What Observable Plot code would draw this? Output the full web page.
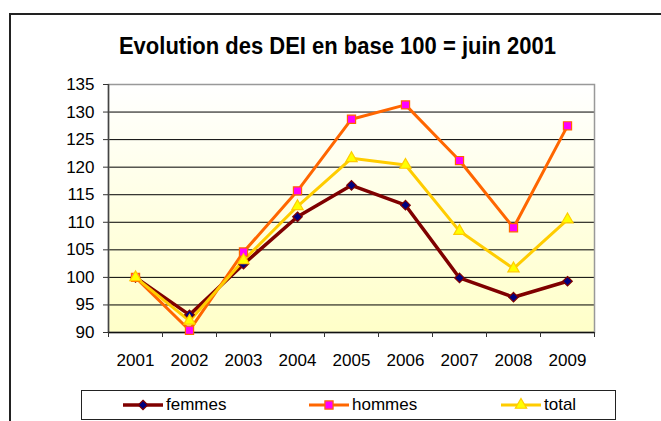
<!DOCTYPE html>
<html>
<head>
<meta charset="utf-8">
<script src="https://cdn.jsdelivr.net/npm/d3@7"></script>
<script src="https://cdn.jsdelivr.net/npm/@observablehq/plot@0.6"></script>
<style>
  html, body { margin: 0; padding: 0; background: #fff; }
  #wrap { position: relative; width: 661px; height: 421px; overflow: hidden; font-family: "Liberation Sans", Arial, sans-serif; }
  #border { position: absolute; left: 9px; top: 13px; width: 700px; height: 500px; border-top: 2px solid #222; border-left: 2px solid #222; }
  #title { position: absolute; left: 337.5px; top: 35px; white-space: nowrap; font-weight: bold; font-size: 22px; line-height: 22px; color: #000; transform: translateX(-50%) scale(1, 1.1); transform-origin: 50% 50%; }
  #chart { position: absolute; left: 0; top: 60px; }
  #legend { position: absolute; left: 81px; top: 390px; width: 533px; height: 28px; border: 1px solid #222; font-size: 17px; color: #000; }
  .item { position: absolute; top: 0; height: 28px; display: flex; align-items: center; }
  .item svg { display: block; }
  .item span { margin-left: 3px; }
</style>
</head>
<body>
<div id="wrap">
  <div id="border"></div>
  <div id="title">Evolution des DEI en base 100 = juin 2001</div>
  <div id="chart"></div>
  <div id="legend"></div>
</div>
<script>
const years = [2001, 2002, 2003, 2004, 2005, 2006, 2007, 2008, 2009];
const femmes = [100, 93.2, 102.4, 111.0, 116.7, 113.1, 99.9, 96.4, 99.3];
const hommes = [100, 90.4, 104.6, 115.7, 128.7, 131.3, 121.2, 109.0, 127.5];
const total = [100, 92.1, 103.1, 112.9, 121.6, 120.4, 108.4, 101.6, 110.5];
const yTicks = [90, 95, 100, 105, 110, 115, 120, 125, 130, 135];
const gridValues = [95, 100, 105, 110, 115, 120, 125, 130];
const seriesNames = ["femmes", "hommes", "total"];

const styles = {
  femmes: {line: "#7F0000", fill: "#000080", stroke: "#7F0000", symbol: "diamond2", r: 4.3, width: 3.5},
  hommes: {line: "#FF6600", fill: "#FF00FF", stroke: "#FF6600", symbol: "square", r: 4.6, width: 3},
  total:  {line: "#FFCC00", fill: "#FFFF00", stroke: "#FFCC00", symbol: "triangle", r: 4.2, width: 3}
};

const seriesData = {femmes, hommes, total};
const rows = seriesNames.flatMap(name => years.map((y, i) => ({series: name, year: y, value: seriesData[name][i]})));
const boundaries = d3.range(years.length + 1).map(i => years[0] - 0.5 + i);

const marks = [
  Plot.frame({fill: "url(#bggrad)", stroke: "none"}),
  Plot.ruleY(gridValues, {stroke: "#000", strokeWidth: 1}),
  Plot.frame({stroke: "#999", strokeWidth: 1.5}),
  Plot.ruleX([boundaries[0]], {stroke: "#444", strokeWidth: 1.5}),
  Plot.ruleY([90], {stroke: "#111", strokeWidth: 1.5}),
  Plot.axisY({ticks: yTicks, tickSize: 5, tickPadding: 9, fontSize: 17, stroke: "#333", label: null, tickFormat: d => String(d)}),
  Plot.axisX({ticks: boundaries, tickSize: 5, tickFormat: () => "", stroke: "#333", label: null}),
  Plot.axisX({ticks: years, tickSize: 0, tickPadding: 21, fontSize: 17, label: null, tickFormat: d => String(d)})
];
for (const name of seriesNames) {
  const s = styles[name];
  const data = rows.filter(d => d.series === name);
  marks.push(Plot.line(data, {x: "year", y: "value", stroke: s.line, strokeWidth: s.width, curve: "linear"}));
}
for (const name of seriesNames) {
  const s = styles[name];
  const data = rows.filter(d => d.series === name);
  marks.push(Plot.dot(data, {x: "year", y: "value", symbol: () => s.symbol, r: s.r, fill: s.fill, stroke: s.stroke, strokeWidth: 1.2}));
}

const plot = Plot.plot({
  width: 661,
  height: 320,
  marginTop: 24,
  marginBottom: 48,
  marginLeft: 108,
  marginRight: 67,
  style: {fontFamily: "'Liberation Sans', Arial, sans-serif", fontSize: "17px", background: "transparent", color: "#000"},
  x: {type: "linear", domain: [boundaries[0], boundaries[boundaries.length - 1]], axis: null, label: null},
  y: {domain: [90, 135], axis: null, label: null},
  symbol: {type: "identity"},
  marks
});

const svg = d3.select(plot);
const defs = svg.insert("defs", ":first-child");
const grad = defs.append("linearGradient").attr("id", "bggrad").attr("x1", 0).attr("y1", 0).attr("x2", 0).attr("y2", 1);
grad.append("stop").attr("offset", "0%").attr("stop-color", "#FFFFFF");
grad.append("stop").attr("offset", "100%").attr("stop-color", "#FFFFC8");
document.getElementById("chart").appendChild(plot);

// legend
const legend = d3.select("#legend");
const legendX = {femmes: 41, hommes: 227, total: 419};
for (const name of seriesNames) {
  const s = styles[name];
  const item = legend.append("div").attr("class", "item").style("left", legendX[name] + "px");
  const sw = item.append("svg").attr("width", 40).attr("height", 16);
  sw.append("line").attr("x1", 0).attr("x2", 40).attr("y1", 8).attr("y2", 8).attr("stroke", s.line).attr("stroke-width", s.width);
  const sym = {diamond2: d3.symbolDiamond2, square: d3.symbolSquare, triangle: d3.symbolTriangle}[s.symbol];
  sw.append("path").attr("transform", "translate(20,8)").attr("d", d3.symbol(sym, Math.PI * s.r * s.r)())
    .attr("fill", s.fill).attr("stroke", s.stroke).attr("stroke-width", 1.2);
  item.append("span").text(name);
}
</script>
</body>
</html>
